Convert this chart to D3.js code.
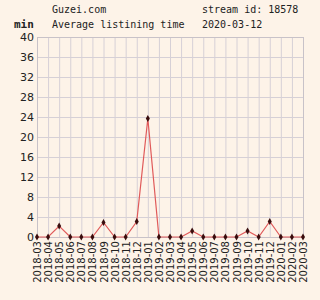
<!DOCTYPE html>
<html>
<head>
<meta charset="utf-8">
<script src="https://cdn.jsdelivr.net/npm/d3@7"></script>
<style>
  body { margin: 0; background: #fdf3e8; }
  svg { display: block; }
  .mono { font-family: "DejaVu Sans Mono", monospace; font-size: 10px; fill: #222; }
  .tick text { font-family: "DejaVu Sans", sans-serif; font-size: 10px; fill: #222; }
</style>
</head>
<body>
<script>
var months = ['2018-03','2018-04','2018-05','2018-06','2018-07','2018-08','2018-09','2018-10','2018-11','2018-12',
              '2019-01','2019-02','2019-03','2019-04','2019-05','2019-06','2019-07','2019-08','2019-09','2019-10',
              '2019-11','2019-12','2020-01','2020-02','2020-03'];
var minutes = [0, 0, 2.2, 0, 0, 0, 2.9, 0, 0, 3.1,
               23.7, 0, 0, 0, 1.2, 0, 0, 0, 0, 1.2,
               0, 3.1, 0, 0, 0];
var yTicks = [0, 4, 8, 12, 16, 20, 24, 28, 32, 36, 40];

var width = 320, height = 300;
var plotLeft = 37, plotRight = 303, plotTop = 37, plotBottom = 237;

var svg = d3.select('body').append('svg')
  .attr('width', width)
  .attr('height', height);

var x = d3.scalePoint().domain(months).range([plotLeft, plotRight]);
var y = d3.scaleLinear().domain([0, 40]).range([plotBottom, plotTop]);

// grid
svg.append('g').selectAll('line').data(months).enter().append('line')
  .attr('x1', function(d) { return x(d) + 0.5; }).attr('x2', function(d) { return x(d) + 0.5; })
  .attr('y1', plotTop).attr('y2', plotBottom)
  .attr('stroke', '#d6d0d6').attr('stroke-width', 1);
svg.append('g').selectAll('line').data(yTicks).enter().append('line')
  .attr('x1', plotLeft).attr('x2', plotRight)
  .attr('y1', function(d) { return y(d) + 0.5; }).attr('y2', function(d) { return y(d) + 0.5; })
  .attr('stroke', '#d6d0d6').attr('stroke-width', 1);
svg.append('rect')
  .attr('x', plotLeft + 0.5).attr('y', plotTop + 0.5)
  .attr('width', plotRight - plotLeft).attr('height', plotBottom - plotTop)
  .attr('fill', 'none').attr('stroke', '#c8c2c8');

// axes
var yAxis = svg.append('g')
  .attr('transform', 'translate(' + plotLeft + ',0)')
  .call(d3.axisLeft(y).tickValues(yTicks).tickSize(0).tickPadding(3));
yAxis.select('.domain').remove();
yAxis.selectAll('text').style('font-size', '11px');

var xAxis = svg.append('g')
  .attr('transform', 'translate(0,' + plotBottom + ')')
  .call(d3.axisBottom(x).tickSize(0).tickPadding(3));
xAxis.select('.domain').remove();
xAxis.selectAll('text')
  .attr('transform', 'rotate(-90)')
  .attr('text-anchor', 'end')
  .attr('x', -4)
  .attr('y', 0)
  .attr('dy', '0.35em');

// line
svg.append('path')
  .datum(minutes)
  .attr('fill', 'none')
  .attr('stroke', '#e05a5a')
  .attr('stroke-width', 1.2)
  .attr('d', d3.line()
    .x(function(d, i) { return x(months[i]); })
    .y(function(d) { return y(d); }));

svg.append('g').selectAll('path').data(minutes).enter().append('path')
  .attr('d', d3.symbol().type(d3.symbolDiamond).size(14))
  .attr('transform', function(d, i) { return 'translate(' + x(months[i]) + ',' + y(d) + ')'; })
  .attr('fill', '#3a0d0d');

// header text
svg.append('text').attr('class', 'mono').attr('x', 52).attr('y', 13).text('Guzei.com');
svg.append('text').attr('class', 'mono').attr('x', 202).attr('y', 13).text('stream id: 18578');
svg.append('text').attr('class', 'mono').attr('x', 14).attr('y', 28)
  .style('font-weight', 'bold').style('font-size', '11px').text('min');
svg.append('text').attr('class', 'mono').attr('x', 52).attr('y', 28).text('Average listining time');
svg.append('text').attr('class', 'mono').attr('x', 202).attr('y', 28).text('2020-03-12');
</script>
</body>
</html>
